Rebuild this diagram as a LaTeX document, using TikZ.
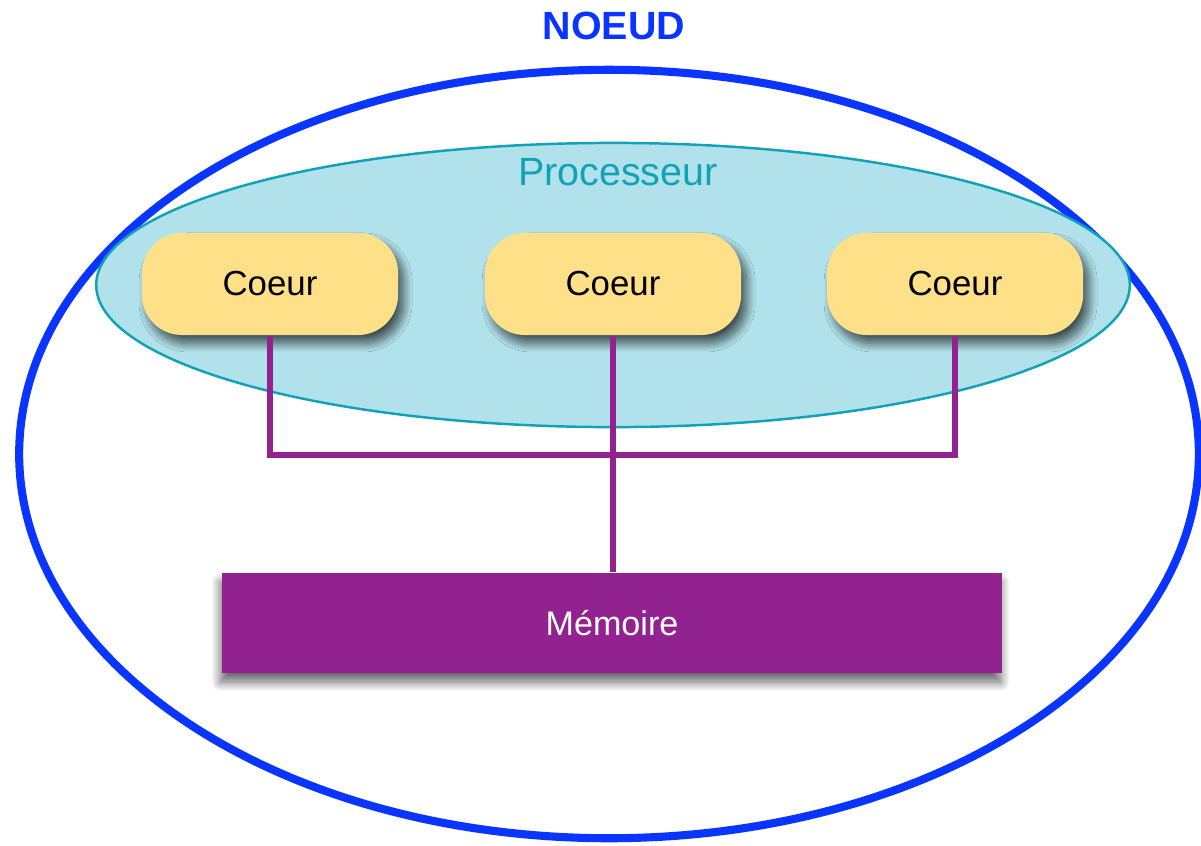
\documentclass[tikz,border=0pt]{standalone}
\usepackage{xcolor}
\usepackage{fontspec}
\setmainfont{Liberation Sans}
\usepackage{tikz}
\usetikzlibrary{shapes.geometric,shadows.blur}

\definecolor{noeudblue}{HTML}{0A34FF}
\definecolor{proccyan}{HTML}{12A2B8}
\definecolor{procfill}{HTML}{B1E1EA}
\definecolor{coeuryellow}{HTML}{FDE087}
\definecolor{mempurple}{HTML}{92228F}

\begin{document}
\begin{tikzpicture}[
    x=0.01cm,
    y=-0.01cm,
    every node/.style={font=\fontsize{9.9}{12}\selectfont},
    noeud/.style={ellipse, draw=noeudblue, line width=2.3pt, minimum width=11.79cm, minimum height=7.68cm},
    proc/.style={ellipse, draw=proccyan, fill=procfill, line width=0.7pt, minimum width=10.33cm, minimum height=2.84cm},
    coeur/.style={fill=coeuryellow, rounded corners=0.4cm, minimum width=2.56cm, minimum height=1.02cm,
                  blur shadow={shadow xshift=1.6pt, shadow yshift=-2.4pt, shadow blur radius=2.4pt,
                               shadow blur steps=16, shadow opacity=65}},
    memoire/.style={fill=mempurple, text=white, minimum width=7.8cm, minimum height=1cm,
                    font=\fontsize{9.7}{11}\selectfont,
                    blur shadow={shadow xshift=-0.4pt, shadow yshift=-2.6pt, shadow blur radius=2.6pt,
                                 shadow blur steps=16, shadow opacity=60}},
    bus/.style={draw=mempurple, line width=1.8pt}
]
\useasboundingbox (0,0) rectangle (1201,845);

\node[noeud] (noeud) at (609,454) {};
\node[text=noeudblue, font=\fontsize{11.2}{13}\selectfont\bfseries] (noeudlbl) at (614,26) {NOEUD};

\node[proc] (proc) at (613,285) {};
\node[text=proccyan, font=\fontsize{11.2}{13}\selectfont] (proclbl) at (618,172) {Processeur};

\foreach \i/\x in {1/270,2/613,3/955}
  \node[coeur] (c\i) at (\x,284) {Coeur};

\node[memoire] (mem) at (612,623) {Mémoire};

% bus from the cores down to the memory
\coordinate (jct) at (613,455);
\draw[bus] (c1.south) -- (c1.south |- jct) -- (c3.south |- jct) -- (c3.south);
\draw[bus] (c2.south) -- (mem.north -| c2.south);
\end{tikzpicture}
\end{document}
